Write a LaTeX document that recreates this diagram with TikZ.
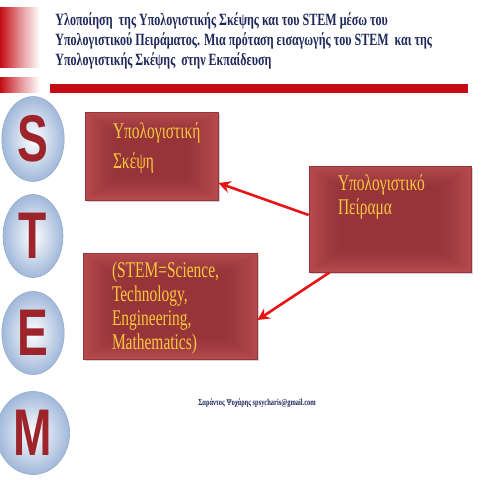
\documentclass[tikz,border=0pt]{standalone}
\usepackage{fontspec}
\setmainfont{Liberation Serif}
\newfontfamily\titlefont[FakeStretch=0.70]{Liberation Serif}
\newfontfamily\boxfont[FakeStretch=0.69]{Liberation Serif}
\newfontfamily\stemfont[FakeStretch=0.70]{Liberation Sans}
\usepackage{tikz}
\usetikzlibrary{positioning, calc, shapes.geometric, shadows, arrows.meta}

\definecolor{barred}{RGB}{196,12,20}
\definecolor{navy}{RGB}{30,40,90}
\definecolor{boxred}{RGB}{178,74,78}
\definecolor{boxdark}{RGB}{120,30,36}
\definecolor{boxedge}{RGB}{150,52,58}
\definecolor{gold}{RGB}{250,200,60}
\definecolor{arrowred}{RGB}{232,20,20}
\definecolor{ellblue}{RGB}{160,184,218}
\definecolor{letterred}{RGB}{156,36,42}

\tikzset{
  stembox/.style={draw=boxedge, fill=boxred, rectangle,
    drop shadow={shadow xshift=1pt, shadow yshift=-1pt, opacity=0.35}},
  boxtext/.style={text=gold, font=\boxfont\fontsize{11.2}{12}\selectfont, align=left, inner sep=0pt},
  link/.style={draw=arrowred, line width=1.3pt, -{Stealth[length=6pt, width=6pt]}},
  letterball/.style={ellipse, shade, inner color=white, outer color=ellblue,
    draw=ellblue!80!gray, line width=0.3pt, minimum width=30pt, minimum height=39pt,
    text=letterred, font=\stemfont\bfseries\fontsize{33}{33}\selectfont}
}

\begin{document}
\begin{tikzpicture}[x=0.5pt, y=-0.5pt]
        \useasboundingbox (0,0) rectangle (480,480);
        % Header bars
        \shade[left color=barred, right color=white, middle color=barred!45] (0,8) rectangle (40,68);
        \shade[left color=barred, right color=white, middle color=barred!45] (0,78) rectangle (40,93);
        \fill[barred] (50,84) rectangle (468,93);

        % Title
        \node (title) [anchor=north west, align=left, inner sep=0pt, text=navy,
          font=\titlefont\bfseries\fontsize{8.6}{10}\selectfont] at (55,12)
          {Υλοποίηση\ \ της Υπολογιστικής Σκέψης και του STEM μέσω του\\
           Υπολογιστικού Πειράματος. Μια πρόταση εισαγωγής του STEM\ \ και της\\
           Υπολογιστικής Σκέψης\ \ στην Εκπαίδευση};

        % S T E M
        \foreach \letter/\y in {S/139, T/236, E/333, M/433}
          \node (ball\letter) [letterball] at (33,\y) {\letter};

        % Boxes
        \node (skepsi) [stembox, minimum width=66.5pt, minimum height=44pt] at (151.5,156) {};
        \node (peirama) [stembox, minimum width=81pt, minimum height=53pt] at (390,219) {};
        \node (stem) [stembox, minimum width=87pt, minimum height=53pt] at (170,306) {};
        \foreach \b in {skepsi, peirama, stem}
          \foreach \i in {1,...,10}
            \fill[boxdark, opacity=0.05]
              ($(\b.north west)+(\i*3,\i*2)$) rectangle ($(\b.south east)+(-\i*3,-\i*2)$);

        % Box texts
        \node (skepsitxt) [boxtext, anchor=north west] at ($(skepsi.north west)+(28,11)$)
          {Υπολογιστική\\[3pt]Σκέψη};
        \node (peiramatxt) [boxtext, anchor=north west] at ($(peirama.north west)+(29,9)$)
          {Υπολογιστικό\\Πείραμα};
        \node (stemtxt) [boxtext, anchor=north west] at ($(stem.north west)+(29,9)$)
          {(STEM=Science,\\Technology,\\Engineering,\\Mathematics)};

        % Arrows
        \draw[link] ($(peirama.west)+(0,-4)$) -- ($(skepsi.east)+(0,27)$);
        \draw[link] ($(peirama.south west)+(21,0)$) -- ($(stem.east)+(0,14)$);

        % Footer
        \node (author) [text=navy, font=\titlefont\bfseries\fontsize{4.6}{5}\selectfont] at (257,403)
          {Σαράντος Ψυχάρης spsycharis@gmail.com};
\end{tikzpicture}
\end{document}
